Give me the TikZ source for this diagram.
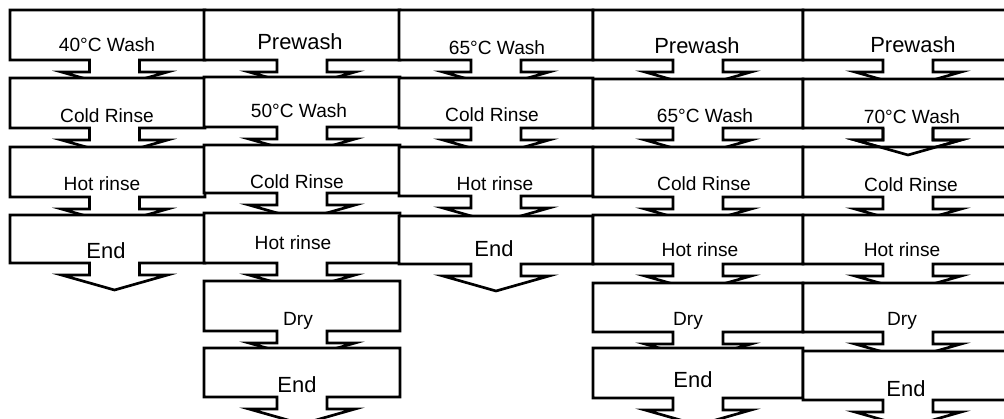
\documentclass[tikz,border=0pt]{standalone}
\usepackage{fontspec}
\setmainfont{Liberation Sans}

% one step: box with a down arrow below it
\newcommand{\washbox}[5]{%
  \draw[boxline] (#1,#3) -- (#2,#3) -- (#2,#4) -- ({#5+25},#4) -- ({#5+25},{#4+12})
    -- ({#5+53},{#4+12}) -- (#5,{#4+27}) -- ({#5-53},{#4+12}) -- ({#5-25},{#4+12})
    -- ({#5-25},#4) -- (#1,#4) -- cycle;
}

\begin{document}
\begin{tikzpicture}[
    x=0.025cm, y=-0.025cm,
    boxline/.style={draw=black, fill=white, line width=1.9pt, line join=miter},
    lab/.style={font=\fontsize{13.6}{16}\selectfont, anchor=base, inner sep=0pt},
    biglab/.style={lab, font=\fontsize{15.6}{18}\selectfont}
  ]

  \useasboundingbox (0,0) rectangle (1004,419);
  \fill[white] (0,0) rectangle (1004,419);
  \clip (0,0) rectangle (1004,419);

  %% ---- programme 1 ----
  \foreach \t/\b/\tx/\ty/\txt/\sty [count=\i] in {
      10/60/107/52/{40°C Wash}/lab,
      78/128/107/123/{Cold Rinse}/lab,
      147/197/102/191/{Hot rinse}/lab,
      215/263/106/258/{End}/biglab}{
    \washbox{10}{205}{\t}{\b}{114.5}
    \node[\sty] (a\i) at (\tx,\ty) {\txt};
  }

  %% ---- programme 2 ----
  \foreach \t/\b/\tx/\ty/\txt/\sty [count=\i] in {
      10/60/300/50/{Prewash}/biglab,
      77/127/299/118/{50°C Wash}/lab,
      145/193/297/189/{Cold Rinse}/lab,
      213/263/293/249/{Hot rinse}/lab,
      281/331/298/325/{Dry}/lab,
      348/397/297/392/{End}/biglab}{
    \washbox{204}{400}{\t}{\b}{302}
    \node[\sty] (b\i) at (\tx,\ty) {\txt};
  }

  %% ---- programme 3 ----
  \foreach \t/\b/\tx/\ty/\txt/\sty [count=\i] in {
      10/60/497/55/{65°C Wash}/lab,
      78/128/492/122/{Cold Rinse}/lab,
      147/196/495/191/{Hot rinse}/lab,
      216/264/494/257/{End}/biglab}{
    \washbox{399}{593}{\t}{\b}{496}
    \node[\sty] (c\i) at (\tx,\ty) {\txt};
  }

  %% ---- programme 4 ----
  \foreach \t/\b/\tx/\ty/\txt/\sty [count=\i] in {
      10/60/697/54/{Prewash}/biglab,
      79/128/705/123/{65°C Wash}/lab,
      147/197/704/191/{Cold Rinse}/lab,
      215/264/700/256/{Hot rinse}/lab,
      283/332/688/325/{Dry}/lab,
      348/398/693/387/{End}/biglab}{
    \washbox{593}{803}{\t}{\b}{698}
    \node[\sty] (d\i) at (\tx,\ty) {\txt};
  }

  %% ---- programme 5 ----
  \foreach \t/\b/\tx/\ty/\txt/\sty [count=\i] in {
      10/60/913/53/{Prewash}/biglab,
      79/128/912/124/{70°C Wash}/lab,
      147/197/911/192/{Cold Rinse}/lab,
      215/264/902/256/{Hot rinse}/lab,
      283/332/902/325/{Dry}/lab,
      351/400/906/396/{End}/biglab}{
    \washbox{803}{1013}{\t}{\b}{908}
    \node[\sty] (e\i) at (\tx,\ty) {\txt};
  }

  %% arrow under 70°C Wash runs over the next box
  \draw[line width=1.9pt, line join=miter] (933,128) -- (933,140) -- (961,140)
    -- (908,155) -- (855,140) -- (883,140) -- (883,128);

\end{tikzpicture}
\end{document}
